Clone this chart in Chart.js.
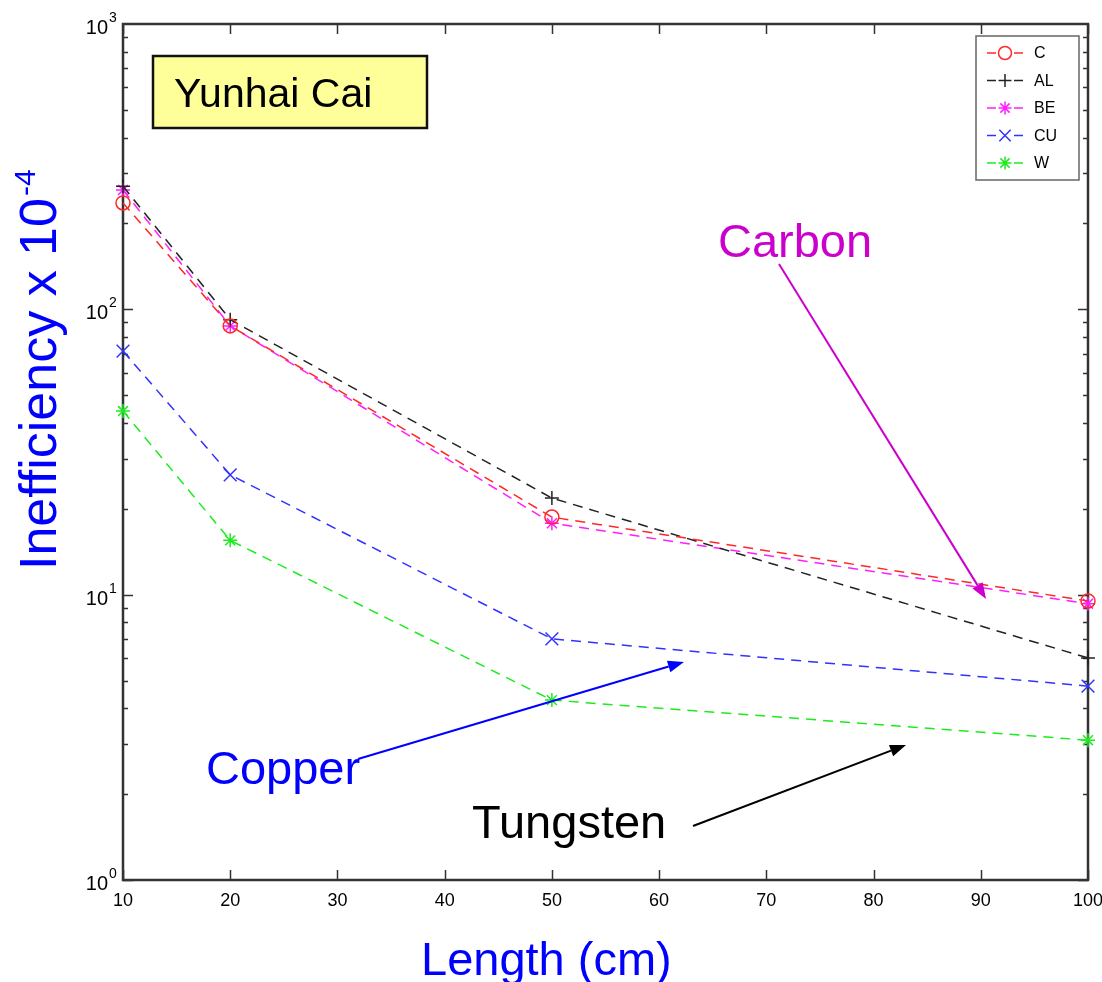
<!DOCTYPE html>
<html>
<head>
<meta charset="utf-8">
<script src="https://cdn.jsdelivr.net/npm/chart.js@4/dist/chart.umd.min.js"></script>
<style>
  body { margin: 0; background: #fff; }
  #wrap { width: 1102px; height: 982px; }
</style>
</head>
<body>
<div id="wrap"><canvas id="chart" width="1102" height="982"></canvas></div>
<script>
const lengths = [10, 20, 50, 100];
const carbon = [236, 87.5, 18.7, 9.5];
const aluminum = [270, 92, 21.8, 6.0];
const beryllium = [262, 87.5, 17.8, 9.3];
const copper = [71.4, 26.3, 7.0, 4.78];
const tungsten = [44, 15.5, 4.27, 3.09];

const seriesNames = ['C', 'AL', 'BE', 'CU', 'W'];
const seriesColors = ['rgb(255,40,40)', '#222222', 'rgb(255,30,255)', 'rgb(50,50,255)', 'rgb(30,235,30)'];
const seriesMarkers = ['circle', 'cross', 'star', 'crossRot', 'star'];
const seriesRadius = [7, 7, 7, 9, 7];

const xTicks = [10, 20, 30, 40, 50, 60, 70, 80, 90, 100];
const yDecades = [0, 1, 2, 3];

const FONT = "'Liberation Sans', Arial, Helvetica, sans-serif";

function toPoints(ys) {
    return lengths.map((x, i) => ({ x: x, y: ys[i] }));
}

const allSeries = [carbon, aluminum, beryllium, copper, tungsten];
const datasets = allSeries.map((ys, i) => ({
    label: seriesNames[i],
    data: toPoints(ys),
    borderColor: seriesColors[i],
    backgroundColor: seriesColors[i],
    pointBorderColor: seriesColors[i],
    pointBackgroundColor: 'rgba(0,0,0,0)',
    pointStyle: seriesMarkers[i],
    pointRadius: seriesRadius[i],
    pointBorderWidth: 1.5,
    borderWidth: 1.5,
    borderDash: [10, 7],
    fill: false,
    tension: 0,
    clip: false
}));

function drawMarker(ctx, style, x, y, r) {
    ctx.beginPath();
    if (style === 'circle') {
        ctx.arc(x, y, r, 0, Math.PI * 2);
    }
    if (style === 'cross' || style === 'star') {
        ctx.moveTo(x - r, y); ctx.lineTo(x + r, y);
        ctx.moveTo(x, y - r); ctx.lineTo(x, y + r);
    }
    if (style === 'crossRot' || style === 'star') {
        const d = r * 0.707;
        ctx.moveTo(x - d, y - d); ctx.lineTo(x + d, y + d);
        ctx.moveTo(x - d, y + d); ctx.lineTo(x + d, y - d);
    }
    ctx.stroke();
}

function arrow(ctx, x1, y1, x2, y2, color) {
    const ang = Math.atan2(y2 - y1, x2 - x1);
    const len = 16, half = 6;
    ctx.save();
    ctx.strokeStyle = color;
    ctx.fillStyle = color;
    ctx.lineWidth = 2;
    ctx.beginPath();
    ctx.moveTo(x1, y1);
    ctx.lineTo(x2 - Math.cos(ang) * len, y2 - Math.sin(ang) * len);
    ctx.stroke();
    ctx.beginPath();
    ctx.moveTo(x2, y2);
    ctx.lineTo(x2 - Math.cos(ang) * len - Math.sin(ang) * half, y2 - Math.sin(ang) * len + Math.cos(ang) * half);
    ctx.lineTo(x2 - Math.cos(ang) * len + Math.sin(ang) * half, y2 - Math.sin(ang) * len - Math.cos(ang) * half);
    ctx.closePath();
    ctx.fill();
    ctx.restore();
}

// frame, inward ticks and tick labels
const framePlugin = {
    id: 'frame',
    beforeDatasetsDraw(chart) {
        const ctx = chart.ctx;
        const a = chart.chartArea;
        const xs = chart.scales.x;
        const ys = chart.scales.y;
        ctx.save();
        ctx.strokeStyle = '#333';
        ctx.lineWidth = 1.5;
        xTicks.forEach(v => {
            const px = Math.round(xs.getPixelForValue(v)) + 0.5;
            ctx.beginPath();
            ctx.moveTo(px, a.bottom); ctx.lineTo(px, a.bottom - 10);
            ctx.moveTo(px, a.top); ctx.lineTo(px, a.top + 10);
            ctx.stroke();
        });
        for (let d = 0; d < 3; d++) {
            for (let m = 1; m <= 9; m++) {
                const v = m * Math.pow(10, d);
                const py = Math.round(ys.getPixelForValue(v)) + 0.5;
                const len = m === 1 ? 10 : 5;
                ctx.beginPath();
                ctx.moveTo(a.left, py); ctx.lineTo(a.left + len, py);
                ctx.moveTo(a.right, py); ctx.lineTo(a.right - len, py);
                ctx.stroke();
            }
        }
        ctx.lineWidth = 2.5;
        ctx.strokeRect(a.left, a.top, a.right - a.left, a.bottom - a.top);

        ctx.fillStyle = '#000';
        ctx.font = '18px ' + FONT;
        ctx.textAlign = 'center';
        ctx.textBaseline = 'alphabetic';
        xTicks.forEach(v => {
            ctx.fillText(String(v), xs.getPixelForValue(v), a.bottom + 26);
        });
        yDecades.forEach(e => {
            const py = ys.getPixelForValue(Math.pow(10, e));
            ctx.font = '20px ' + FONT;
            ctx.textAlign = 'right';
            ctx.fillText('10', a.left - 15, py + 10);
            ctx.font = '14px ' + FONT;
            ctx.textAlign = 'left';
            ctx.fillText(String(e), a.left - 14, py - 2);
        });
        ctx.restore();
    },
    afterDraw(chart) {
        const ctx = chart.ctx;
        ctx.save();

        // axis titles
        ctx.fillStyle = '#0000ff';
        ctx.font = '47px ' + FONT;
        ctx.textAlign = 'left';
        ctx.fillText('Length (cm)', 421, 975);

        ctx.save();
        ctx.translate(56, 570);
        ctx.rotate(-Math.PI / 2);
        ctx.font = '52px ' + FONT;
        const main = 'Inefficiency x 10';
        ctx.fillText(main, 0, 0);
        const w = ctx.measureText(main).width;
        ctx.font = '30px ' + FONT;
        ctx.fillText('-4', w + 2, -21);
        ctx.restore();

        // name box
        ctx.fillStyle = '#ffff99';
        ctx.fillRect(153, 56, 274, 72);
        ctx.strokeStyle = '#111';
        ctx.lineWidth = 2.5;
        ctx.strokeRect(153, 56, 274, 72);
        ctx.fillStyle = '#000';
        ctx.font = '41px ' + FONT;
        ctx.fillText('Yunhai Cai', 174, 107);

        // annotations
        ctx.font = '47px ' + FONT;
        ctx.fillStyle = '#cc00cc';
        ctx.fillText('Carbon', 718, 257);
        arrow(ctx, 779, 264, 986, 599, '#cc00cc');
        ctx.fillStyle = '#0000ff';
        ctx.fillText('Copper', 206, 784);
        arrow(ctx, 358, 759, 684, 662, '#0000ff');
        ctx.fillStyle = '#000';
        ctx.fillText('Tungsten', 472, 838);
        arrow(ctx, 693, 826, 906, 745, '#000');

        // legend
        ctx.fillStyle = '#fff';
        ctx.fillRect(976, 36, 103, 144);
        ctx.strokeStyle = '#666';
        ctx.lineWidth = 1.5;
        ctx.strokeRect(976, 36, 103, 144);
        ctx.font = '16px ' + FONT;
        ctx.textBaseline = 'middle';
        seriesNames.forEach((name, i) => {
            const y = 53 + i * 27.5;
            ctx.strokeStyle = seriesColors[i];
            ctx.lineWidth = 1.5;
            ctx.beginPath();
            ctx.moveTo(987, y); ctx.lineTo(996, y);
            ctx.moveTo(1014, y); ctx.lineTo(1023, y);
            ctx.stroke();
            drawMarker(ctx, seriesMarkers[i], 1005, y, seriesMarkers[i] === 'crossRot' ? 8 : 6.5);
            ctx.fillStyle = '#000';
            ctx.fillText(name, 1034, y + 1);
        });
        ctx.restore();
    }
};

new Chart(document.getElementById('chart').getContext('2d'), {
    type: 'line',
    data: { datasets: datasets },
    options: {
        responsive: false,
        animation: false,
        devicePixelRatio: 1,
        layout: { padding: { left: 123, top: 24, right: 14, bottom: 102 } },
        plugins: { legend: { display: false }, tooltip: { enabled: false } },
        scales: {
            x: { type: 'linear', min: 10, max: 100, display: false },
            y: { type: 'logarithmic', min: 1, max: 1000, display: false }
        }
    },
    plugins: [framePlugin]
});
</script>
</body>
</html>
